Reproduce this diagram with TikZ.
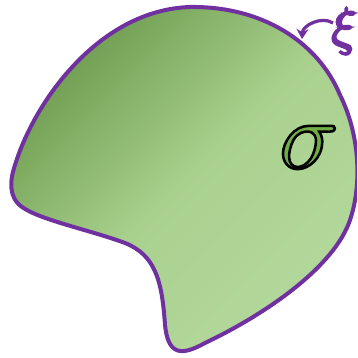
\documentclass[tikz,border=0pt]{standalone}
\usetikzlibrary{arrows.meta}
\definecolor{gdark}{HTML}{6E9C4F}
\definecolor{glight}{HTML}{B4D89D}
\definecolor{gmid}{HTML}{A9D18E}
\definecolor{outl}{HTML}{7030A0}
\definecolor{sfill}{HTML}{70AD47}
\tikzset{
  blob/.style={draw=outl, line width=4pt, line join=round, top color=gdark, bottom color=glight, middle color=gmid, shading angle=45},
  purparrow/.style={draw=outl, line width=3.2pt, -{Stealth[length=10pt,width=12pt]}},
}
\begin{document}
\begin{tikzpicture}[x=1pt,y=-1pt]
\useasboundingbox (0,0) rectangle (357,358);
\begin{scope}
\clip (0,0) rectangle (357,358);
\path[blob] (190,7) .. controls (262,6) and (318,42) .. (340,95)
  .. controls (360,135) and (362,185) .. (350,220)
  .. controls (335,265) and (270,312) .. (205,343)
  .. controls (180,357) and (168,354) .. (165,325)
  .. controls (162,280) and (155,255) .. (125,243)
  .. controls (90,230) and (40,220) .. (22,207)
  .. controls (8,197) and (10,180) .. (15,165)
  .. controls (35,100) and (100,10) .. (190,7) -- cycle;
\end{scope}
\node[inner sep=0pt, scale=9.8] (sig) at (309,147) {\color{sfill}\special{pdf:literal direct 0 0 0 RG 2 Tr 0.26 w}$\sigma$\special{pdf:literal direct 0 Tr}};
\node[inner sep=0pt, scale=5.2] (xi) at (344,31) {\color{outl}\special{pdf:literal direct 0.439 0.188 0.627 RG 2 Tr 0.45 w}$\xi$\special{pdf:literal direct 0 Tr}};
\coordinate (as) at (333,23);
\coordinate (ae) at (302,39);
\draw[purparrow] (as) to[bend right=60] (ae);
\end{tikzpicture}
\end{document}
